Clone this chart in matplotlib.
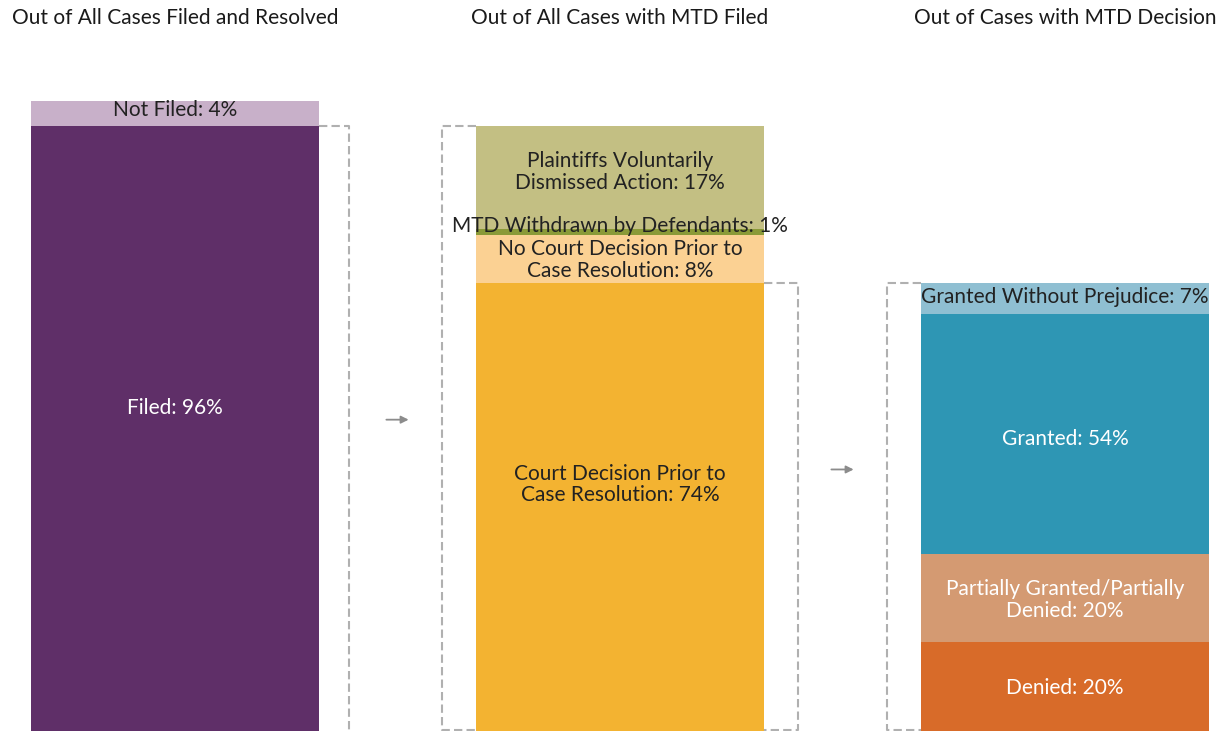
import matplotlib
matplotlib.use('Agg')
import matplotlib.pyplot as plt

# data
titles = ["Out of All Cases Filed and Resolved",
          "Out of All Cases with MTD Filed",
          "Out of Cases with MTD Decision"]

# segments listed bottom -> top
bar1_labels = ["Filed: 96%", "Not Filed: 4%"]
bar1_values = [96, 4]
bar1_colors = ["#5f2f68", "#c8b0c9"]

bar2_labels = ["Court Decision Prior to\nCase Resolution: 74%",
               "No Court Decision Prior to\nCase Resolution: 8%",
               "MTD Withdrawn by Defendants: 1%",
               "Plaintiffs Voluntarily\nDismissed Action: 17%"]
bar2_values = [74, 8, 1, 17]
bar2_colors = ["#f3b331", "#fbd193", "#8a9a38", "#c3bf83"]

bar3_labels = ["Denied: 20%",
               "Partially Granted/Partially\nDenied: 20%",
               "Granted: 54%",
               "Granted Without Prejudice: 7%"]
bar3_values = [20, 20, 54, 7]
bar3_colors = ["#d86b29", "#d49a72", "#2e96b4", "#8fbfd2"]

# label text colour per segment and small vertical nudges (data units)
bar1_text = ["white", "#222222"]
bar2_text = ["#222222", "#222222", "#222222", "#222222"]
bar3_text = ["white", "white", "white", "#222222"]
bar1_nudge = [3.3, 0.6]
bar2_nudge = [3.6, -0.2, 0.9, 0.9]
bar3_nudge = [-0.2, -0.3, -0.8, 0.3]

FONT = ['Lato', 'DejaVu Sans']
plt.rcParams['font.family'] = FONT

fig = plt.figure(figsize=(12.26, 7.31), dpi=100)
ax = fig.add_axes([0, 0, 1, 1])
ppu = 605 / 96
ax.set_xlim(-175 / 445, (1226 - 175) / 445)
ax.set_ylim(0, 731 / ppu)
ax.axis('off')

width = 288 / 445


def draw_stack(x, values, labels, colors, tcolors, nudges, total):
    s = sum(values)
    bottom = 0
    for v, lab, c, tc, nd in zip(values, labels, colors, tcolors, nudges):
        h = v / s * total
        ax.bar(x, h, width=width, bottom=bottom, color=c, edgecolor='none')
        ax.text(x, bottom + h / 2 + nd, lab, ha='center', va='center',
                fontsize=15, color=tc, linespacing=1.12)
        bottom += h
    return bottom


def bracket(x0, x1, y0, y1):
    ax.plot([x0, x1, x1, x0], [y1, y1, y0, y0], color='#b0b0b0', lw=1.5,
            linestyle=(0, (4, 2)), solid_capstyle='butt')


total1 = 100
total2 = total1 * bar1_values[0] / sum(bar1_values)
total3 = total2 * bar2_values[0] / sum(bar2_values)

draw_stack(0, bar1_values, bar1_labels, bar1_colors, bar1_text, bar1_nudge, total1)
draw_stack(1, bar2_values, bar2_labels, bar2_colors, bar2_text, bar2_nudge, total2)
draw_stack(2, bar3_values, bar3_labels, bar3_colors, bar3_text, bar3_nudge, total3)

gap = 32 / 445
ybot = 0.2
bracket(0 + width / 2, 0 + width / 2 + gap * 0.93, -1, total2)
bracket(1 - width / 2, 1 - width / 2 - gap * 1.06, ybot, total2)
bracket(1 + width / 2, 1 + width / 2 + gap * 1.06, ybot, total3)
bracket(2 - width / 2, 2 - width / 2 - gap * 1.06, ybot, total3)

# arrows between bars
for xa, ya in [(0.5, 49.4), (1.5, 41.5)]:
    ax.annotate('', xy=(xa + 0.025, ya), xytext=(xa - 0.025, ya),
                arrowprops=dict(arrowstyle='-|>', color='#8c8c8c', lw=1.3,
                                mutation_scale=11, shrinkA=0, shrinkB=0))

for i, t in enumerate(titles):
    ax.text(i, (731 - 18) / ppu, t, ha='center', va='center',
            fontsize=15, color='#1a1a1a')

fig.savefig('out.png', dpi=100)
